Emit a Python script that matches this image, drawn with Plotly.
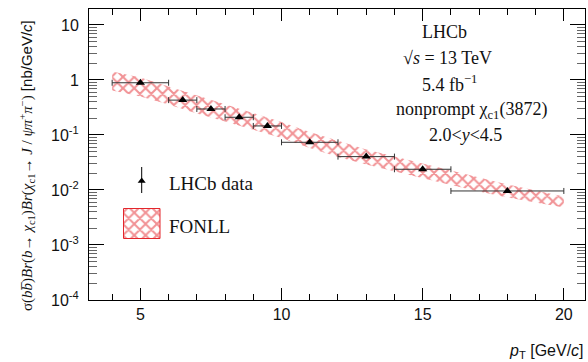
import plotly.graph_objects as go

# ---- data ----
pt_centers = [5, 6.5, 7.5, 8.5, 9.5, 11, 13, 15, 18]
pt_halfwidth = [1, 0.5, 0.5, 0.5, 0.5, 1, 1, 1, 2]
xsec = [0.89, 0.43, 0.297, 0.21, 0.146, 0.0736, 0.0404, 0.0238, 0.0096]

fonll_pt = [4, 5, 6, 7, 8, 9, 10, 11, 12, 13, 14, 15, 16, 17, 18, 19, 20]
fonll_up = [1.427, 1.110, 0.762, 0.523, 0.358, 0.251, 0.172, 0.1134, 0.0778,
            0.0545, 0.0407, 0.0303, 0.0222, 0.0169, 0.0126, 0.0098, 0.00762]
fonll_lo = [0.644, 0.501, 0.358, 0.246, 0.176, 0.123, 0.0882, 0.0580, 0.0398,
            0.0291, 0.0217, 0.0162, 0.0123, 0.0094, 0.00730, 0.00593, 0.00481]

y_tickvals = [1e-4, 1e-3, 1e-2, 1e-1, 1, 10]
y_ticktext = ["10<sup>-4</sup>", "10<sup>-3</sup>", "10<sup>-2</sup>",
              "10<sup>-1</sup>", "1", "10"]
y_minor = [m * 10.0 ** e for e in range(-4, 2) for m in range(2, 10)]

info_lines = ["LHCb", "\u221A<i>s</i> = 13 TeV", "5.4 fb<sup>\u22121</sup>",
              "nonprompt \u03C7<sub>c1</sub>(3872)", "2.0&lt;<i>y</i>&lt;4.5"]

RED = "#e3262c"
# plot area in pixels
L, R, T, B = 89, 585, 9, 300
W, H = 588, 362

PATTERN = dict(shape="x", fgcolor=RED, bgcolor="rgba(0,0,0,0)",
               size=8, solidity=0.45)

fig = go.Figure()

fig.add_trace(go.Scatter(x=fonll_pt, y=fonll_lo, mode="lines",
                         line=dict(width=0, color=RED), showlegend=False,
                         hoverinfo="skip"))
fig.add_trace(go.Scatter(x=fonll_pt, y=fonll_up, mode="lines",
                         line=dict(width=0, color=RED), fill="tonexty",
                         fillcolor="rgba(0,0,0,0)", fillpattern=PATTERN,
                         showlegend=False, hoverinfo="skip"))

fig.add_trace(go.Scatter(x=pt_centers, y=xsec, mode="markers",
                         marker=dict(symbol="triangle-up", size=8, color="black"),
                         error_x=dict(type="data", array=pt_halfwidth,
                                      color="#333333", thickness=1, width=3),
                         showlegend=False))

# legend keys on a pixel-coordinate overlay axis
fig.add_trace(go.Scatter(x=[141.7, 141.7], y=[167, 193], mode="lines",
                         line=dict(color="black", width=1),
                         xaxis="x2", yaxis="y2", showlegend=False))
fig.add_trace(go.Scatter(x=[141.7], y=[181], mode="markers",
                         marker=dict(symbol="triangle-up", size=7, color="black"),
                         xaxis="x2", yaxis="y2", showlegend=False))
fig.add_trace(go.Scatter(x=[123.5, 160, 160, 123.5, 123.5],
                         y=[208.5, 208.5, 238.5, 238.5, 208.5],
                         mode="lines", fill="toself",
                         fillcolor="rgba(0,0,0,0)", fillpattern=PATTERN,
                         line=dict(color=RED, width=1),
                         xaxis="x2", yaxis="y2", showlegend=False))

def px(xp):
    return (xp - L) / (R - L)

def py(yp):
    return (B - yp) / (B - T)

ann = []
serif = "Liberation Serif"
info_x = [444, 447, 449, 471, 465]
info_y = [32, 58, 83, 110, 135]
for t, xx, yy in zip(info_lines, info_x, info_y):
    ann.append(dict(text=t, x=px(xx), y=py(yy), xref="paper", yref="paper",
                    showarrow=False, xanchor="center", yanchor="middle",
                    font=dict(family=serif, size=18, color="#111111")))
ann.append(dict(text="LHCb data", x=px(167), y=py(183), xref="paper", yref="paper",
                showarrow=False, xanchor="left", yanchor="middle",
                font=dict(family=serif, size=19, color="#111111")))
ann.append(dict(text="FONLL", x=px(167), y=py(226), xref="paper", yref="paper",
                showarrow=False, xanchor="left", yanchor="middle",
                font=dict(family=serif, size=19, color="#111111")))
ann.append(dict(text="<i>p</i><sub>T</sub> [GeV/<i>c</i>]", x=px(586), y=py(351),
                xref="paper", yref="paper", showarrow=False,
                xanchor="right", yanchor="middle",
                font=dict(family="Liberation Sans", size=16, color="#111111")))
ytitle = ("<span style='font-family:Liberation Serif'>"
          "\u03C3(<i>b</i><i>b\u0305</i>)<i>Br</i>(<i>b</i>\u2192 <i>\u03C7</i><sub>c1</sub>)"
          "<i>Br</i>(<i>\u03C7</i><sub>c1</sub>\u2192 <i>J</i> / <i>\u03C8\u03C0</i><sup>+</sup>"
          "<i>\u03C0</i><sup>\u2212</sup>)</span> [nb/GeV/<i>c</i>]")
ann.append(dict(text=ytitle,
                x=px(27), y=py(166), xref="paper", yref="paper", showarrow=False,
                textangle=-90, xanchor="center", yanchor="middle",
                font=dict(family="Liberation Sans", size=15, color="#111111")))

fig.update_layout(
    width=W, height=H,
    margin=dict(l=L, r=W - R, t=T, b=H - B),
    paper_bgcolor="white", plot_bgcolor="white",
    showlegend=False,
    annotations=ann,
    xaxis=dict(range=[3.18, 20.75], showgrid=False, zeroline=False,
               showline=True, linecolor="black", linewidth=1, mirror="ticks",
               ticks="inside", ticklen=12, tickcolor="black",
               tickvals=[5, 10, 15, 20], ticktext=["5", "10", "15", "20"],
               tickfont=dict(family="Liberation Sans", size=16, color="#111111"),
               minor=dict(ticks="inside", ticklen=6, tickcolor="black",
                          tickvals=[4, 6, 7, 8, 9, 11, 12, 13, 14, 16, 17, 18, 19, 20]),
               ),
    yaxis=dict(type="log", range=[-4, 1.29], showgrid=False, zeroline=False,
               showline=True, linecolor="black", linewidth=1, mirror="ticks",
               ticks="inside", ticklen=15, tickcolor="black",
               tickvals=y_tickvals, ticktext=y_ticktext,
               ticklabelstandoff=6,
               tickfont=dict(family="Liberation Sans", size=16, color="#111111"),
               minor=dict(ticks="inside", ticklen=8, tickcolor="#666666",
                          tickvals=y_minor)),
    xaxis2=dict(overlaying="x", range=[L, R], visible=False, anchor="y2"),
    yaxis2=dict(overlaying="y", range=[B, T], visible=False, anchor="x2"),
)

fig.write_html("out.html", config={"displayModeBar": False},
               post_script="document.body.style.margin='0';document.body.style.overflow='hidden';")
